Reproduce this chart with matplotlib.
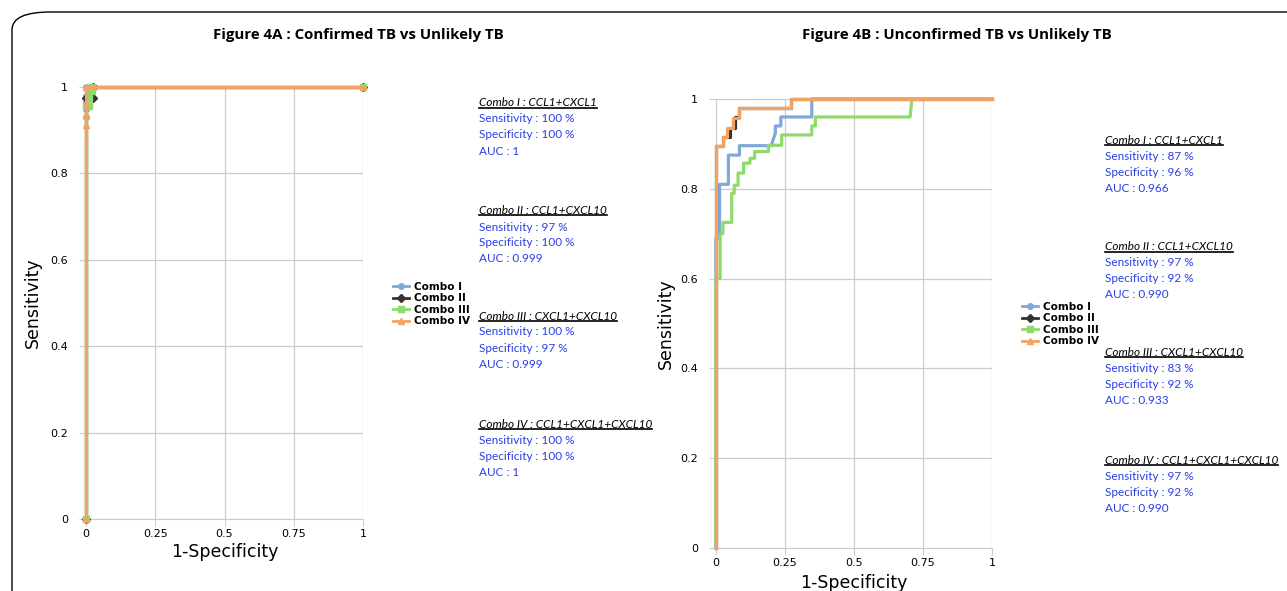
"""
ROC curves for the chemokine combos (Figure 4A / 4B).
"""
import matplotlib
matplotlib.use('Agg')
import matplotlib.pyplot as plt
from matplotlib.lines import Line2D
from matplotlib.patches import FancyBboxPatch

combos = ['Combo I', 'Combo II', 'Combo III', 'Combo IV']
colors = ['#7fa9d8', '#333333', '#8edb6c', '#f2a263']
markers = ['o', 'D', 's', '^']

# Figure 4A : confirmed TB vs unlikely TB (1-specificity, sensitivity)
a_x = [
    [0, 0, 0, 0, 0, 0, 0.015, 0.03, 1],
    [0, 0, 0.025, 0.025, 1],
    [0, 0, 0.012, 0.012, 0.012, 0.02, 0.02, 1],
    [0, 0, 0, 0, 0, 1],
]
a_y = [
    [0, 0.93, 0.95, 0.965, 0.98, 1, 1, 1, 1],
    [0, 0.975, 0.975, 1, 1],
    [0, 0.955, 0.955, 0.975, 0.99, 0.99, 1, 1],
    [0, 0.912, 0.935, 0.96, 1, 1],
]

# Figure 4B : unconfirmed TB vs unlikely TB
b_x = [
    [0, 0, 0.013, 0.013, 0.045, 0.045, 0.085, 0.085, 0.2, 0.215, 0.215, 0.235, 0.235, 0.347, 0.347, 1],
    [0, 0, 0.027, 0.027, 0.05, 0.05, 0.07, 0.07, 0.083, 0.083, 0.27, 0.27, 1],
    [0, 0, 0.015, 0.015, 0.025, 0.025, 0.057, 0.057, 0.066, 0.066, 0.08, 0.08, 0.1, 0.1,
     0.123, 0.123, 0.14, 0.14, 0.19, 0.19, 0.238, 0.238, 0.347, 0.347, 0.36, 0.36, 0.703, 0.71, 1],
    [0, 0, 0.027, 0.027, 0.041, 0.041, 0.062, 0.062, 0.083, 0.083, 0.27, 0.27, 1],
]
b_y = [
    [0, 0.69, 0.69, 0.81, 0.81, 0.875, 0.875, 0.896, 0.896, 0.924, 0.94, 0.94, 0.96, 0.96, 1, 1],
    [0, 0.896, 0.896, 0.915, 0.915, 0.936, 0.936, 0.96, 0.96, 0.979, 0.979, 1, 1],
    [0, 0.60, 0.60, 0.70, 0.70, 0.725, 0.725, 0.79, 0.79, 0.808, 0.808, 0.835, 0.835, 0.857,
     0.857, 0.868, 0.868, 0.883, 0.883, 0.897, 0.897, 0.92, 0.92, 0.94, 0.94, 0.96, 0.96, 1, 1],
    [0, 0.896, 0.896, 0.915, 0.915, 0.936, 0.936, 0.957, 0.957, 0.979, 0.979, 1, 1],
]

a_notes = [
    ('Combo I : CCL1+CXCL1', ['Sensitivity : 100 %', 'Specificity : 100 %', 'AUC : 1']),
    ('Combo II : CCL1+CXCL10', ['Sensitivity : 97 %', 'Specificity : 100 %', 'AUC : 0.999']),
    ('Combo III : CXCL1+CXCL10', ['Sensitivity : 100 %', 'Specificity : 97 %', 'AUC : 0.999']),
    ('Combo IV : CCL1+CXCL1+CXCL10', ['Sensitivity : 100 %', 'Specificity : 100 %', 'AUC : 1']),
]
b_notes = [
    ('Combo I : CCL1+CXCL1', ['Sensitivity : 87 %', 'Specificity : 96 %', 'AUC : 0.966']),
    ('Combo II : CCL1+CXCL10', ['Sensitivity : 97 %', 'Specificity : 92 %', 'AUC : 0.990']),
    ('Combo III : CXCL1+CXCL10', ['Sensitivity : 83 %', 'Specificity : 92 %', 'AUC : 0.933']),
    ('Combo IV : CCL1+CXCL1+CXCL10', ['Sensitivity : 97 %', 'Specificity : 92 %', 'AUC : 0.990']),
]

W, H = 1287, 591
fig = plt.figure(figsize=(W / 100, H / 100), dpi=100)

# rounded frame around the whole panel
fig.patches.append(FancyBboxPatch((12 / W, -0.2), 1.2, 1.2 - 12 / H,
                                  boxstyle='round,pad=0,rounding_size=0.03',
                                  transform=fig.transFigure, fill=False,
                                  lw=1.0, ec='black'))


def px(x, y):
    return x / W, 1 - y / H


def setup_axes(rect, xs, ys, use_markers):
    ax = fig.add_axes(rect)
    for i in range(4):
        ax.plot(xs[i], ys[i], color=colors[i], lw=2.3, clip_on=False,
                marker=markers[i] if use_markers else None, ms=4,
                zorder=3 + i)
    ax.set_xlim(0, 1)
    ax.set_ylim(0, 1)
    ax.set_xticks([0, 0.25, 0.5, 0.75, 1])
    ax.set_xticklabels(['0', '0.25', '0.5', '0.75', '1'])
    ax.set_yticks([0, 0.2, 0.4, 0.6, 0.8, 1])
    ax.set_yticklabels(['0', '0.2', '0.4', '0.6', '0.8', '1'])
    ax.grid(True, color='#cccccc', lw=0.9)
    ax.set_axisbelow(True)
    for s in ['top', 'right']:
        ax.spines[s].set_visible(False)
    for s in ['left', 'bottom']:
        ax.spines[s].set_color('#cccccc')
    ax.tick_params(length=5, color='#cccccc', labelsize=8)
    ax.tick_params(axis='x', pad=2)
    ax.tick_params(axis='y', pad=8)
    ax.set_xlabel('1-Specificity', fontsize=12.5)
    ax.set_ylabel('Sensitivity', fontsize=12.5)
    return ax


ax_a = setup_axes([86 / W, 1 - 519 / H, 277 / W, 432 / H], a_x, a_y, True)
ax_b = setup_axes([716 / W, 1 - 548 / H, 276 / W, 449 / H], b_x, b_y, False)
ax_a.xaxis.set_label_coords(0.5, -0.056)
ax_b.xaxis.set_label_coords(0.5, -0.058)
ax_a.yaxis.set_label_coords(-44 / 277, 0.5)
ax_b.yaxis.set_label_coords(-41 / 276, 0.5)

fig.text(*px(358, 35), 'Figure 4A : Confirmed TB vs Unlikely TB', ha='center',
         va='center', fontsize=10.8, fontweight='bold', family='Open Sans')
fig.text(*px(957, 35), 'Figure 4B : Unconfirmed TB vs Unlikely TB', ha='center',
         va='center', fontsize=10.8, fontweight='bold', family='Open Sans')

handles = [Line2D([], [], color=colors[i], marker=markers[i], lw=2, ms=4)
           for i in range(4)]
for cx, cy in [(388, 304), (1017, 324)]:
    fig.legend(handles, combos, loc='center left', bbox_to_anchor=px(cx, cy),
               frameon=False, prop={'size': 7.5, 'weight': 'bold'},
               handlelength=1.5, handletextpad=0.5, labelspacing=0.15,
               borderpad=0)

headers = []


def notes(x, tops, blocks):
    for top, (head, lines) in zip(tops, blocks):
        t = fig.text(*px(x, top), head, fontsize=8.5, style='italic',
                     va='center', ha='left', family='Lato', color='black')
        headers.append(t)
        for k, s in enumerate(lines):
            fig.text(*px(x, top + 16 * (k + 1)), s, fontsize=8.5, va='center',
                     ha='left', family='Lato', color='#2a3fe8')


notes(479, [103, 211, 316, 424], a_notes)
notes(1105, [140, 247, 352, 460], b_notes)

# underline the combo headers
fig.canvas.draw()
inv = fig.transFigure.inverted()
for t in headers:
    bb = t.get_window_extent()
    (x0, y0), (x1, _) = inv.transform([(bb.x0, bb.y0 + 1), (bb.x1, bb.y0 + 1)])
    fig.add_artist(Line2D([x0, x1], [y0, y0], transform=fig.transFigure,
                          color='black', lw=1.2))

fig.savefig('out.png', dpi=100)
